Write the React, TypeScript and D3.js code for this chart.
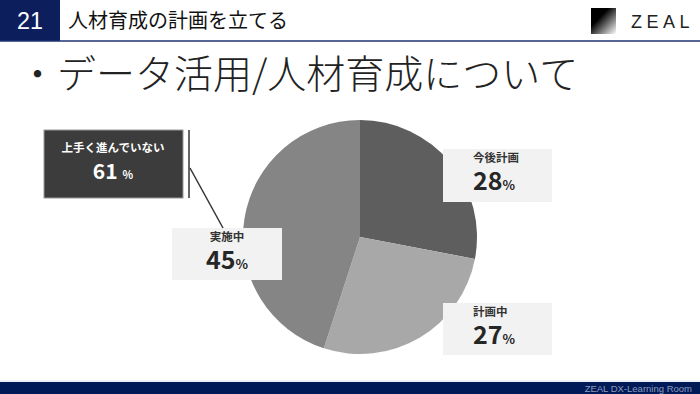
import React from "react";
import * as d3 from "d3";

const categories = ["今後計画", "計画中", "実施中"];
const values = [28, 27, 45];
const sliceColors = ["#5e5e5e", "#a8a8a8", "#858585"];
const calloutLabel = "上手く進んでいない";
const calloutValue = 61;

const W = 700;
const H = 394;
const CX = 360;
const CY = 237;
const R = 117;
const JP = "'Noto Sans CJK JP', 'Noto Sans', sans-serif";

const App = () => {
  const pie = d3.pie<number>().sort(null)(values);
  const arc = d3.arc<d3.PieArcDatum<number>>().innerRadius(0).outerRadius(R);

  // label boxes, placed relative to the pie
  const boxes = [
    { x: CX + 83, y: CY - 88, w: 109, h: 53, align: "start" },
    { x: CX + 83, y: CY + 66, w: 109, h: 52, align: "start" },
    { x: CX - 188, y: CY - 9, w: 110, h: 52, align: "middle" },
  ];

  return (
    <svg width={W} height={H} style={{ position: "absolute", left: 0, top: 0 }}>
      <defs>
        <linearGradient id="logo" x1="0" y1="0" x2="1" y2="1">
          <stop offset="0.35" stopColor="#000" />
          <stop offset="1" stopColor="#fff" />
        </linearGradient>
      </defs>
      <rect width={W} height={H} fill="#fff" />

      {/* header */}
      <rect x={0} y={0} width={60} height={41} fill="#0c1f5c" />
      <text x={30} y={29} fill="#fff" fontFamily="'Liberation Sans', sans-serif" fontSize={23} textAnchor="middle" textLength={26} lengthAdjust="spacingAndGlyphs">
        21
      </text>
      <text x={68} y={28} fill="#111" fontFamily={JP} fontSize={20}>
        人材育成の計画を立てる
      </text>
      <line x1={0} x2={W} y1={41} y2={41} stroke="#1f3370" strokeWidth={1.5} />
      <rect x={591} y={8} width={25} height={26} fill="url(#logo)" />
      <text x={631} y={28} fill="#222" fontFamily="'Liberation Sans', sans-serif" fontSize={18} letterSpacing={4.5}>
        ZEAL
      </text>

      {/* title */}
      <text x={18} y={88} fill="#222" fontFamily={JP} fontSize={39} fontWeight={300}>
        ・データ活用/人材育成について
      </text>

      {/* pie */}
      <g transform={`translate(${CX},${CY})`}>
        {pie.map((d, i) => (
          <path key={i} d={arc(d)!} fill={sliceColors[i]} />
        ))}
      </g>

      {/* labels */}
      {pie.map((d, i) => {
        const b = boxes[i];
        const tx = b.align === "middle" ? b.x + b.w / 2 : b.x + 30;
        return (
          <g key={i}>
            <rect x={b.x} y={b.y} width={b.w} height={b.h} fill="#f2f2f2" />
            <text x={tx} y={b.y + 12.5} fontFamily={JP} fontSize={11.5} fontWeight={700} fill="#333" textAnchor={b.align}>
              {categories[i]}
            </text>
            <text x={tx} y={b.y + 41} fontFamily={JP} fontWeight={700} fill="#262626" textAnchor={b.align}>
              <tspan fontSize={25}>{d.data}</tspan>
              <tspan fontSize={13}>%</tspan>
            </text>
          </g>
        );
      })}

      {/* callout */}
      <rect x={44} y={130} width={139} height={68} fill="#3c3c3c" stroke="#999" strokeWidth={1} />
      <text x={113} y={152} fontFamily={JP} fontSize={11.5} fontWeight={700} fill="#fff" textAnchor="middle">
        {calloutLabel}
      </text>
      <text x={113} y={179} fontFamily={JP} fontWeight={700} fill="#fff" textAnchor="middle">
        <tspan fontSize={21}>{calloutValue}</tspan>
        <tspan fontSize={11} dx={5}>%</tspan>
      </text>
      <line x1={189} x2={189} y1={130} y2={198} stroke="#333" strokeWidth={1.5} />
      <line x1={190} y1={168} x2={boxes[2].x + 51} y2={boxes[2].y} stroke="#333" strokeWidth={1.5} />

      {/* footer */}
      <line x1={0} x2={W} y1={381} y2={381} stroke="#dde3ea" strokeWidth={1} />
      <rect x={0} y={382} width={W} height={12} fill="#001a57" />
      <text x={692} y={392} fontFamily="'Liberation Sans', sans-serif" fontSize={9.5} fill="#8d9bbd" textAnchor="end">
        ZEAL DX-Learning Room
      </text>
    </svg>
  );
};

export default App;
